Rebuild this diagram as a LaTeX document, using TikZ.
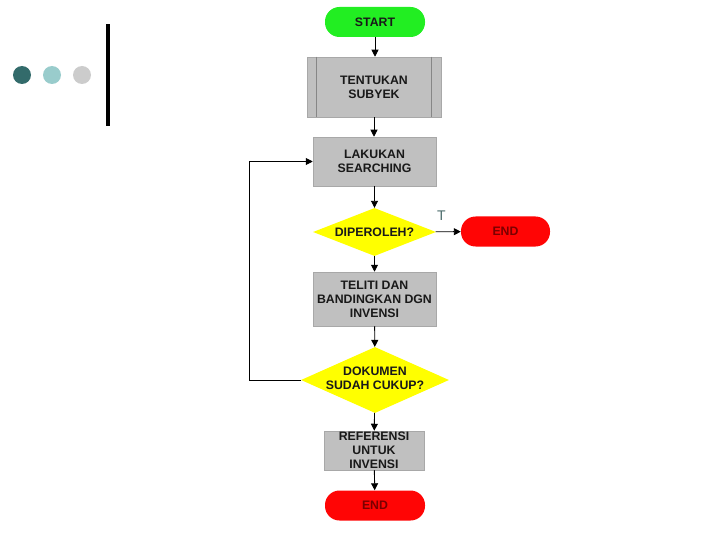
\documentclass[tikz,border=0pt]{standalone}
\usepackage{fontspec}
\setmainfont{Liberation Sans}
\usetikzlibrary{shapes.geometric,arrows.meta,calc}
\definecolor{boxgray}{HTML}{C0C0C0}
\definecolor{boxedge}{HTML}{A8A8A8}
\definecolor{startgreen}{HTML}{22EE22}
\definecolor{endred}{HTML}{FF0505}
\definecolor{endtext}{HTML}{7A0000}
\definecolor{diayellow}{HTML}{FFFF00}
\definecolor{dotA}{HTML}{336B6B}
\definecolor{dotB}{HTML}{99CCCC}
\definecolor{dotC}{HTML}{CCCCCC}
\definecolor{tlabel}{HTML}{4A6A6A}
\tikzset{
  lbl/.style={font=\bfseries\fontsize{12.3}{14}\selectfont, align=center, text=black!90},
  term/.style={lbl, draw=none, rectangle, rounded corners=14.5pt, minimum height=30pt, inner sep=0pt},
  startbox/.style={term, fill=startgreen, minimum width=100pt},
  endbox/.style={term, fill=endred, text=endtext},
  procbox/.style={lbl, rectangle, fill=boxgray, draw=boxedge, line width=0.5pt, inner sep=0pt},
  decbox/.style={lbl, diamond, fill=diayellow, draw=none, inner sep=0pt},
  conn/.style={draw=black, line width=0.9pt, -{Triangle[length=7pt,width=7pt]}},
  predline/.style={draw=boxedge!80!black, line width=0.6pt}
}
\begin{document}
\begin{tikzpicture}[x=1pt,y=-1pt]
\useasboundingbox (0,0) rectangle (720,540);
% decoration
\fill[dotA] (22,75) circle (9);
\fill[dotB] (52,75) circle (9);
\fill[dotC] (82,75) circle (9);
\fill[black] (106,24) rectangle (110,126);
% nodes
\node[startbox] (start) at (375,22) {START};
\node[procbox, minimum width=134pt, minimum height=60pt] (subyek) at (374,87) {TENTUKAN\\SUBYEK};
\draw[predline] ($(subyek.north west)+(10,0)$) -- ($(subyek.south west)+(10,0)$);
\draw[predline] ($(subyek.north east)+(-10,0)$) -- ($(subyek.south east)+(-10,0)$);
\node[procbox, minimum width=123pt, minimum height=49pt] (search) at (374.5,161.5) {LAKUKAN\\SEARCHING};
\node[decbox, minimum width=123pt, minimum height=48pt] (diper) at (374.5,232) {\makebox[0pt]{DIPEROLEH?}};
\node[endbox, minimum width=89pt] (end1) at (505.5,231.5) {END};
\node[text=tlabel, font=\fontsize{14}{14}\selectfont, inner sep=0pt] (tl) at (441.5,216) {T};
\node[procbox, minimum width=123pt, minimum height=54pt] (teliti) at (374.5,299) {TELITI DAN\\BANDINGKAN DGN\\INVENSI};
\node[decbox, minimum width=148pt, minimum height=66pt] (dok) at (375,380) {\makebox[0pt]{\begin{tabular}{@{}c@{}}DOKUMEN\\SUDAH CUKUP?\end{tabular}}};
\node[procbox, minimum width=100pt, minimum height=39pt] (ref) at (374,450.5) {REFERENSI\\UNTUK\\INVENSI};
\node[startbox, fill=endred, text=endtext] (end2) at (375,505.5) {END};
\coordinate (loopA) at (249,380);
\coordinate (loopB) at (249,161.5);
% connectors
\draw[conn] (start) -- (start |- subyek.north);
\draw[conn] (subyek.south) -- (subyek.south |- search.north);
\draw[conn] (search) -- (diper);
\draw[conn] (diper) -- (end1);
\draw[conn] (diper) -- (teliti);
\draw[conn] (teliti) -- (dok);
\draw[conn] (dok.west) -- (loopA) -- (loopB) -- (search.west);
\draw[conn] (dok) -- (ref);
\draw[conn] (ref) -- (end2);
\end{tikzpicture}
\end{document}
